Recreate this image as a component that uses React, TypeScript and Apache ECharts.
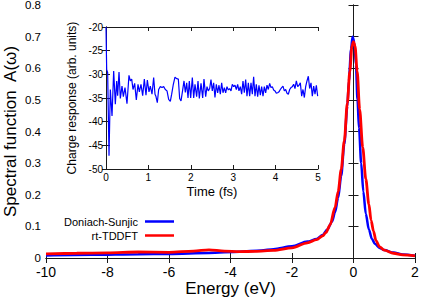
import React, { useEffect, useRef } from "react";
import * as echarts from "echarts";

// Main panel: spectral function A(ω) vs energy (eV)
const dsEnergy = [-10, -8.5, -7, -6, -4.7, -3.7, -3, -2.6, -2, -1.5, -1.2, -1, -0.85, -0.7, -0.6, -0.5, -0.4, -0.3, -0.2, -0.15, -0.08, -0.03, 0.03, 0.08, 0.13, 0.18, 0.25, 0.32, 0.4, 0.5, 0.6, 0.7, 0.85, 1, 1.3, 1.6, 2];
const dsValue = [0.008, 0.01, 0.012, 0.013, 0.016, 0.02, 0.024, 0.028, 0.037, 0.052, 0.06, 0.073, 0.09, 0.115, 0.145, 0.19, 0.26, 0.36, 0.48, 0.56, 0.66, 0.70, 0.68, 0.61, 0.5, 0.41, 0.3, 0.21, 0.14, 0.09, 0.06, 0.044, 0.032, 0.025, 0.017, 0.011, 0.007];

const tdEnergy = [-10, -9, -8, -7, -6, -5.2, -4.7, -4.2, -3.7, -3.2, -2.6, -2, -1.5, -1.2, -1, -0.9, -0.76, -0.6, -0.5, -0.4, -0.3, -0.2, -0.12, -0.05, 0, 0.05, 0.12, 0.2, 0.3, 0.4, 0.5, 0.57, 0.65, 0.73, 0.85, 1, 1.3, 1.6, 2];
const tdValue = [0.013, 0.015, 0.016, 0.019, 0.018, 0.022, 0.026, 0.022, 0.02, 0.021, 0.024, 0.032, 0.048, 0.058, 0.07, 0.08, 0.105, 0.16, 0.21, 0.28, 0.37, 0.49, 0.59, 0.67, 0.684, 0.67, 0.59, 0.47, 0.35, 0.25, 0.17, 0.12, 0.085, 0.055, 0.035, 0.025, 0.015, 0.01, 0.007];

// Inset: charge response vs time (fs)
const insetTime = [0, 0.016, 0.039, 0.071, 0.102, 0.142, 0.181, 0.22, 0.252, 0.275, 0.307, 0.338, 0.377, 0.409, 0.448, 0.495, 0.542, 0.574, 0.606, 0.637, 0.676, 0.715, 0.755, 0.786, 0.825, 0.865, 0.904, 0.943, 0.975, 1.014, 1.045, 1.085, 1.124, 1.156, 1.179, 1.21, 1.242, 1.281, 1.321, 1.36, 1.399, 1.439, 1.478, 1.517, 1.549, 1.588, 1.627, 1.667, 1.706, 1.737, 1.769, 1.8, 1.84, 1.871, 1.903, 1.934, 1.965, 1.997, 2.036, 2.068, 2.099, 2.138, 2.17, 2.201, 2.241, 2.28, 2.311, 2.351, 2.382, 2.413, 2.445,
  2.476, 2.507, 2.539, 2.57, 2.602, 2.633, 2.665, 2.696, 2.728, 2.759, 2.791, 2.822, 2.853, 2.885, 2.916, 2.948, 2.979, 3.011, 3.042, 3.074, 3.105, 3.136, 3.168, 3.199, 3.231, 3.262, 3.294, 3.325, 3.357, 3.388, 3.42, 3.451, 3.482, 3.514, 3.545, 3.577, 3.608, 3.64, 3.671, 3.703, 3.734, 3.765, 3.797, 3.828, 3.86, 3.891, 3.923, 3.954, 3.986, 4.017, 4.049, 4.08, 4.111, 4.143, 4.174, 4.206, 4.237, 4.269, 4.3, 4.332, 4.363, 4.394, 4.426, 4.457, 4.489, 4.52, 4.552, 4.583, 4.615, 4.646, 4.678, 4.709, 4.74, 4.772, 4.803, 4.835, 4.866, 4.898, 4.929, 4.961, 4.992];
const insetCharge = [-20, -29, -29.6, -47.2, -33.2, -38.8, -29.3, -36.3, -31.4, -34.5, -29.5, -35.1, -32.5, -34.7, -32.8, -36.2, -30.2, -31.4, -31.0, -33.2, -31.9, -35.4, -32.1, -33.7, -32.1, -34.5, -31.0, -34.4, -31.2, -33.7, -32.5, -34.2, -30.7, -34.2, -34.7, -36.0, -33.2, -32.6, -32.8, -32.6, -33.2, -33.5, -35.3, -35.7, -34.2, -32.1, -30.6, -30.9, -31.0, -35.1, -35.6, -33.8, -31.4, -33.8, -31.8, -35.0, -31.4, -35.0, -30.7, -35.0, -32.1, -34.7, -31.4, -35.1, -31.9, -35.0, -31.0, -34.7, -32.6, -33.5, -33.0,
  -31.1, -33.5, -31.8, -34.9, -32.1, -33.9, -32.3, -34.2, -31.8, -33.9,
  -32.8, -33.9, -32.6, -33.3, -33.0, -33.5, -32.1, -32.6, -32.3, -33.2,
  -32.1, -33.5, -32.6, -34.2, -31.4, -33.9, -31.1, -34.6, -31.8, -34.6,
  -31.8, -34.2, -30.5, -34.6, -32.1, -34.7, -32.3, -34.4, -32.6, -34.6,
  -32.6, -33.9, -32.3, -33.2, -31.9, -32.8, -32.6, -33.3, -33.5, -34.0,
  -33.9, -33.7, -33.2, -32.8, -32.5, -33.5, -33.2, -34.0, -34.2, -33.2,
  -32.8, -32.6, -32.1, -33.0, -31.4, -32.6, -32.3, -31.8, -34.6, -33.2,
  -34.9, -32.6, -31.4, -30.4, -33.0, -31.8, -34.6, -32.5, -34.2, -32.3,
  -34.6];

const seriesNames = ["Doniach-Sunjic", "rt-TDDFT"];

const FONT = "'Liberation Sans', Arial, Helvetica, sans-serif";
const AX = "#1a1a1a";

function zip(a: number[], b: number[]) {
  return a.map((v, i) => [v, b[i]]);
}

export default function App() {
  const ref = useRef<HTMLDivElement>(null);
  useEffect(() => {
    if (!ref.current) return;
    const chart = echarts.init(ref.current, undefined, { renderer: "svg" });
    const line = { lineStyle: { color: AX, width: 1 } };
    const tickIn = (len: number) => ({ show: true, inside: true, length: len, lineStyle: { color: AX, width: 1 } });
    chart.setOption({
      animation: false,
      backgroundColor: "#fff",
      textStyle: { fontFamily: FONT },
      grid: [
        { left: 46, right: 7, top: 5, bottom: 42, outerBoundsMode: "none", containLabel: false },
        { left: 106, top: 27, width: 212, height: 142, show: true, backgroundColor: "#fff", borderWidth: 0, outerBoundsMode: "none", containLabel: false },
      ],
      legend: {
        data: seriesNames,
        orient: "vertical",
        align: "right",
        right: 243,
        top: 211,
        icon: "rect",
        itemWidth: 29,
        itemHeight: 2.5,
        itemGap: 3,
        textStyle: { fontSize: 11, color: "#000", fontFamily: FONT, padding: [0, 2, 0, 0] },
      },
      xAxis: [
        {
          gridIndex: 0, type: "value", min: -10, max: 2, interval: 2, position: "bottom",
          axisLine: line, axisTick: tickIn(5), splitLine: { show: false },
          axisLabel: { fontSize: 14, color: "#000", margin: 7, fontFamily: FONT },
          name: "Energy (eV)", nameLocation: "middle", nameGap: 22, nameMoveOverlap: false,
          nameTextStyle: { fontSize: 17, color: "#000", fontFamily: FONT },
        },
        {
          gridIndex: 0, type: "value", min: -10, max: 2, interval: 2, position: "top",
          axisLine: line, axisTick: tickIn(5), splitLine: { show: false }, axisLabel: { show: false },
        },
        {
          gridIndex: 1, type: "value", min: 0, max: 5, interval: 1, position: "bottom",
          axisLine: line, axisTick: tickIn(4), splitLine: { show: false },
          axisLabel: { fontSize: 10, color: "#000", margin: 3, fontFamily: FONT },
          name: "Time (fs)", nameLocation: "middle", nameGap: 16, nameMoveOverlap: false,
          nameTextStyle: { fontSize: 13, color: "#000", fontFamily: FONT },
        },
        {
          gridIndex: 1, type: "value", min: 0, max: 5, interval: 1, position: "top",
          axisLine: line, axisTick: tickIn(4), splitLine: { show: false }, axisLabel: { show: false },
        },
      ],
      yAxis: [
        {
          gridIndex: 0, type: "value", min: 0, max: 0.8, interval: 0.1, position: "left",
          axisLine: { show: true, ...line }, axisTick: tickIn(5), splitLine: { show: false },
          axisLabel: {
            fontSize: 11.5, color: "#000", margin: 5, fontFamily: FONT,
            formatter: (v: number) => (v === 0 ? "0" : v.toFixed(1)),
          },
          name: "Spectral function  A(ω)", nameLocation: "middle", nameGap: 27, nameMoveOverlap: false,
          nameTextStyle: { fontSize: 17, color: "#000", fontFamily: FONT },
        },
        {
          gridIndex: 0, type: "value", min: 0, max: 0.8, interval: 0.1, position: "right",
          axisLine: { show: true, ...line }, axisTick: tickIn(5), splitLine: { show: false }, axisLabel: { show: false },
        },
        {
          gridIndex: 1, type: "value", min: -50, max: -20, interval: 5, position: "left",
          axisLine: { show: true, ...line }, axisTick: tickIn(4), splitLine: { show: false },
          axisLabel: { fontSize: 10, color: "#000", margin: 3, fontFamily: FONT },
          name: "Charge response (arb. units)", nameLocation: "middle", nameGap: 28, nameMoveOverlap: false,
          nameTextStyle: { fontSize: 12, color: "#000", fontFamily: FONT },
        },
        {
          gridIndex: 1, type: "value", min: -50, max: -20, interval: 5, position: "right",
          axisLine: { show: true, ...line }, axisTick: tickIn(4), splitLine: { show: false }, axisLabel: { show: false },
        },
      ],
      series: [
        {
          name: seriesNames[0], type: "line", xAxisIndex: 0, yAxisIndex: 0,
          data: zip(dsEnergy, dsValue), showSymbol: false, symbol: "none",
          smooth: 0.3, smoothMonotone: "x",
          lineStyle: { color: "#0000ff", width: 2.5 }, itemStyle: { color: "#0000ff" },
        },
        {
          name: seriesNames[1], type: "line", xAxisIndex: 0, yAxisIndex: 0,
          data: zip(tdEnergy, tdValue), showSymbol: false, symbol: "none",
          smooth: 0.3, smoothMonotone: "x",
          lineStyle: { color: "#ff0000", width: 2.8 }, itemStyle: { color: "#ff0000" },
        },
        {
          name: "charge", type: "line", xAxisIndex: 2, yAxisIndex: 2,
          data: zip(insetTime, insetCharge), showSymbol: false, symbol: "none",
          lineStyle: { color: "#0000ff", width: 1.2 }, itemStyle: { color: "#0000ff" },
          clip: true,
        },
      ],
    });
    return () => chart.dispose();
  }, []);
  return <div ref={ref} style={{ position: "fixed", left: 0, top: 0, width: 422, height: 300 }} />;
}
